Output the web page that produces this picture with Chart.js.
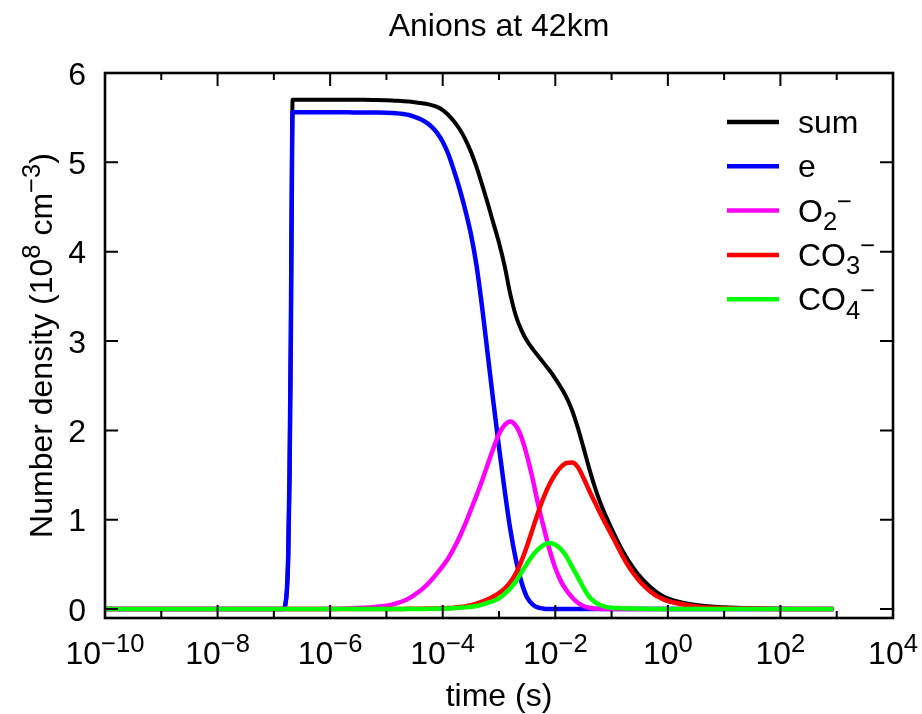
<!DOCTYPE html>
<html lang="en">
  <head>
    <meta charset="utf-8" />
    <title>Anions at 42km</title>
    <style>
      body {
        margin: 0;
        background: #fff;
      }
    </style>
  </head>
  <body>
    <canvas id="anions" width="922" height="714"></canvas>

    <script src="https://cdn.jsdelivr.net/npm/chart.js@4.4.0/dist/chart.umd.min.js"></script>
    <script>
      // time (s), shared by every series
      const times = [
        1e-10, 1e-9, 1e-8, 1e-7, 1.5e-7, 1.6e-7, 1.7e-7, 1.8e-7, 1.9e-7, 2.0e-7, 2.1e-7, 2.15e-7,
        1e-6, 1.58e-6, 2.51e-6, 3.98e-6, 6.31e-6,
        1e-5, 1.26e-5, 1.58e-5, 2.0e-5, 2.51e-5, 3.16e-5, 3.98e-5, 5.01e-5, 6.31e-5, 7.94e-5,
        1e-4, 1.26e-4, 1.58e-4, 2.0e-4, 2.51e-4, 3.16e-4, 3.98e-4, 5.01e-4, 6.31e-4, 7.94e-4,
        1e-3, 1.26e-3, 1.58e-3, 2.0e-3, 2.51e-3, 3.16e-3, 3.98e-3, 5.01e-3, 6.31e-3, 7.94e-3,
        1e-2, 1.26e-2, 1.58e-2, 2.0e-2, 2.51e-2, 3.16e-2, 3.98e-2, 5.01e-2, 6.31e-2, 7.94e-2,
        0.1, 0.126, 0.158, 0.2, 0.251, 0.316, 0.398, 0.501, 0.631, 0.794,
        1, 3.16, 10, 31.6, 100, 316, 870,
      ];

      // number density (10^8 cm^-3)
      const nSum = [
        0, 0, 0, 0, 0, 0.05, 0.2, 0.6, 1.5, 3.0, 5.1, 5.70,
        5.70, 5.70, 5.70, 5.70, 5.698,
        5.695, 5.693, 5.69, 5.685, 5.68, 5.673, 5.665, 5.655, 5.64, 5.62,
        5.585, 5.53, 5.46, 5.37, 5.26, 5.12, 4.95, 4.75, 4.54, 4.32,
        4.10, 3.84, 3.53, 3.28, 3.12, 3.00, 2.91, 2.83, 2.75, 2.67,
        2.58, 2.48, 2.37, 2.22, 2.03, 1.81, 1.58, 1.37, 1.19, 1.04,
        0.90, 0.77, 0.65, 0.54, 0.45, 0.37, 0.30, 0.24, 0.19, 0.15,
        0.12, 0.045, 0.02, 0.008, 0.003, 0.001, 0,
      ];
      const nE = [
        0, 0, 0, 0, 0, 0.05, 0.2, 0.6, 1.5, 3.0, 5.0, 5.56,
        5.56, 5.56, 5.559, 5.558, 5.557,
        5.555, 5.552, 5.548, 5.54, 5.53, 5.51, 5.485, 5.45, 5.40, 5.33,
        5.23, 5.09, 4.91, 4.70, 4.47, 4.20, 3.85, 3.38, 2.85, 2.32,
        1.81, 1.33, 0.90, 0.55, 0.30, 0.13, 0.05, 0.015, 0.004, 0.001,
        0, 0, 0, 0, 0, 0, 0, 0, 0, 0,
        0, 0, 0, 0, 0, 0, 0, 0, 0, 0,
        0, 0, 0, 0, 0, 0, 0,
      ];
      const nO2 = [
        0, 0, 0, 0, 0, 0, 0, 0, 0, 0, 0, 0,
        0.002, 0.004, 0.008, 0.014, 0.024,
        0.038, 0.05, 0.068, 0.09, 0.12, 0.16, 0.205, 0.26, 0.325, 0.40,
        0.48, 0.57, 0.68, 0.81, 0.95, 1.11, 1.27, 1.44, 1.62, 1.80,
        1.96, 2.06, 2.10, 2.05, 1.92, 1.71, 1.45, 1.16, 0.90, 0.66,
        0.46, 0.31, 0.21, 0.13, 0.07, 0.035, 0.015, 0.006, 0.002, 0,
        0, 0, 0, 0, 0, 0, 0, 0, 0, 0,
        0, 0, 0, 0, 0, 0, 0,
      ];
      const nCO3 = [
        0, 0, 0, 0, 0, 0, 0, 0, 0, 0, 0, 0,
        0, 0, 0, 0, 0,
        0.001, 0.001, 0.002, 0.002, 0.003, 0.003, 0.004, 0.005, 0.006, 0.007,
        0.009, 0.012, 0.016, 0.022, 0.03, 0.042, 0.06, 0.085, 0.11, 0.14,
        0.18, 0.23, 0.30, 0.40, 0.54, 0.71, 0.90, 1.09, 1.26, 1.40,
        1.51, 1.59, 1.635, 1.64, 1.59, 1.47, 1.33, 1.20, 1.07, 0.95,
        0.83, 0.71, 0.59, 0.48, 0.39, 0.31, 0.245, 0.19, 0.145, 0.115,
        0.09, 0.03, 0.01, 0.004, 0.001, 0, 0,
      ];
      const nCO4 = [
        0, 0, 0, 0, 0, 0, 0, 0, 0, 0, 0, 0,
        0, 0, 0, 0, 0,
        0, 0, 0, 0, 0.001, 0.001, 0.002, 0.002, 0.003, 0.004,
        0.005, 0.007, 0.01, 0.014, 0.019, 0.025, 0.035, 0.05, 0.07, 0.09,
        0.12, 0.17, 0.23, 0.31, 0.41, 0.51, 0.60, 0.67, 0.72, 0.74,
        0.72, 0.67, 0.59, 0.47, 0.36, 0.24, 0.14, 0.08, 0.045, 0.025,
        0.015, 0.011, 0.008, 0.006, 0.005, 0.004, 0.003, 0.002, 0.002, 0.001,
        0.001, 0, 0, 0, 0, 0, 0,
      ];

      const seriesNames = ["sum", "e", "O_2^−", "CO_3^−", "CO_4^−"];
      const xTickExps = [-10, -8, -6, -4, -2, 0, 2, 4];
      const yTicks = [0, 1, 2, 3, 4, 5, 6];

      const FONT = "'Liberation Sans', Arial, Helvetica, sans-serif";
      const FS = 32;

      function pts(ns) {
        return times.map((t, i) => ({ x: t, y: ns[i] }));
      }

      // gnuplot style enhanced text: ^ superscript, _ subscript, {..} groups
      function parseRich(str) {
        const parts = [];
        let i = 0;
        let buf = "";
        while (i < str.length) {
          const c = str[i];
          if (c === "^" || c === "_") {
            if (buf) parts.push({ t: buf, m: 0 });
            buf = "";
            const m = c === "^" ? 1 : -1;
            i++;
            let tok = "";
            if (str[i] === "{") {
              const j = str.indexOf("}", i);
              tok = str.slice(i + 1, j);
              i = j + 1;
            } else {
              tok = str[i];
              i++;
            }
            parts.push({ t: tok, m: m });
          } else {
            buf += c;
            i++;
          }
        }
        if (buf) parts.push({ t: buf, m: 0 });
        return parts;
      }

      function drawRich(ctx, str, x, y, size, align) {
        const parts = parseRich(str);
        let total = 0;
        parts.forEach((p) => {
          p.size = p.m ? size * 0.8 : size;
          ctx.font = p.size + "px " + FONT;
          p.w = ctx.measureText(p.t).width;
          total += p.w;
        });
        let cx = x;
        if (align === "center") cx = x - total / 2;
        if (align === "right") cx = x - total;
        ctx.textAlign = "left";
        ctx.textBaseline = "alphabetic";
        parts.forEach((p) => {
          ctx.font = p.size + "px " + FONT;
          let dy = 0;
          if (p.m === 1) dy = -size * 0.36;
          if (p.m === -1) dy = size * 0.26;
          ctx.fillText(p.t, cx, y + dy);
          cx += p.w;
        });
      }

      const framePlugin = {
        id: "frame",
        beforeDraw(chart) {
          const ctx = chart.ctx;
          ctx.save();
          ctx.fillStyle = "#fff";
          ctx.fillRect(0, 0, chart.width, chart.height);
          ctx.restore();
        },
        afterDraw(chart) {
          const ctx = chart.ctx;
          const a = chart.chartArea;
          const xs = chart.scales.x;
          const ys = chart.scales.y;
          ctx.save();
          ctx.strokeStyle = "#000";
          ctx.fillStyle = "#000";

          // ticks, inward on all four sides
          ctx.lineWidth = 2;
          ctx.beginPath();
          for (let e = xTickExps[0]; e <= xTickExps[xTickExps.length - 1]; e++) {
            const px = xs.getPixelForValue(Math.pow(10, e));
            const len = xTickExps.includes(e) ? 13 : 7;
            ctx.moveTo(px, a.bottom);
            ctx.lineTo(px, a.bottom - len);
            ctx.moveTo(px, a.top);
            ctx.lineTo(px, a.top + len);
          }
          yTicks.forEach((v) => {
            const py = ys.getPixelForValue(v);
            ctx.moveTo(a.left, py);
            ctx.lineTo(a.left + 13, py);
            ctx.moveTo(a.right, py);
            ctx.lineTo(a.right - 13, py);
          });
          ctx.stroke();

          ctx.lineWidth = 2.6;
          ctx.strokeRect(a.left, a.top, a.right - a.left, a.bottom - a.top);

          // tick labels
          xTickExps.forEach((e) => {
            const px = xs.getPixelForValue(Math.pow(10, e));
            const s = "10^{" + (e < 0 ? "−" + -e : String(e)) + "}";
            drawRich(ctx, s, px, a.bottom + 46, FS, "center");
          });
          yTicks.forEach((v) => {
            const py = ys.getPixelForValue(v);
            drawRich(ctx, String(v), a.left - 19, py + 11.5, FS, "right");
          });

          // titles
          const cx = (a.left + a.right) / 2;
          drawRich(ctx, "Anions at 42km", cx, 36, FS, "center");
          drawRich(ctx, "time (s)", cx, 706, FS, "center");
          ctx.save();
          ctx.translate(52, (a.top + a.bottom) / 2);
          ctx.rotate(-Math.PI / 2);
          drawRich(ctx, "Number density (10^8 cm^{−3})", 0, 0, FS, "center");
          ctx.restore();

          // key
          chart.data.datasets.forEach((ds, i) => {
            const ry = 122 + i * 44.3;
            ctx.strokeStyle = ds.borderColor;
            ctx.lineWidth = 4.5;
            ctx.beginPath();
            ctx.moveTo(727, ry);
            ctx.lineTo(779, ry);
            ctx.stroke();
            ctx.fillStyle = "#000";
            drawRich(ctx, ds.label, 798, ry + 11, FS, "left");
          });
          ctx.restore();
        },
      };

      const colors = ["#000000", "#0000ff", "#ff00ff", "#ff0000", "#00ff00"];
      const widths = [4, 4.5, 4.5, 4.5, 4.5];
      const series = [nSum, nE, nO2, nCO3, nCO4];

      const chart = new Chart(document.getElementById("anions").getContext("2d"), {
        type: "line",
        data: {
          datasets: series.map((ns, i) => ({
            label: seriesNames[i],
            data: pts(ns),
            borderColor: colors[i],
            borderWidth: widths[i],
            pointRadius: 0,
            fill: false,
            cubicInterpolationMode: "monotone",
            // later series are painted over earlier ones, as in the original
            order: series.length - i,
          })),
        },
        options: {
          responsive: false,
          animation: false,
          layout: { padding: { left: 105, right: 29, top: 73, bottom: 96 } },
          plugins: {
            legend: { display: false },
            title: { display: false },
            tooltip: { enabled: false },
          },
          scales: {
            x: { type: "logarithmic", min: 1e-10, max: 1e4, display: false },
            y: { type: "linear", min: -0.1, max: 6, display: false },
          },
        },
        plugins: [framePlugin],
      });
    </script>
  </body>
</html>
